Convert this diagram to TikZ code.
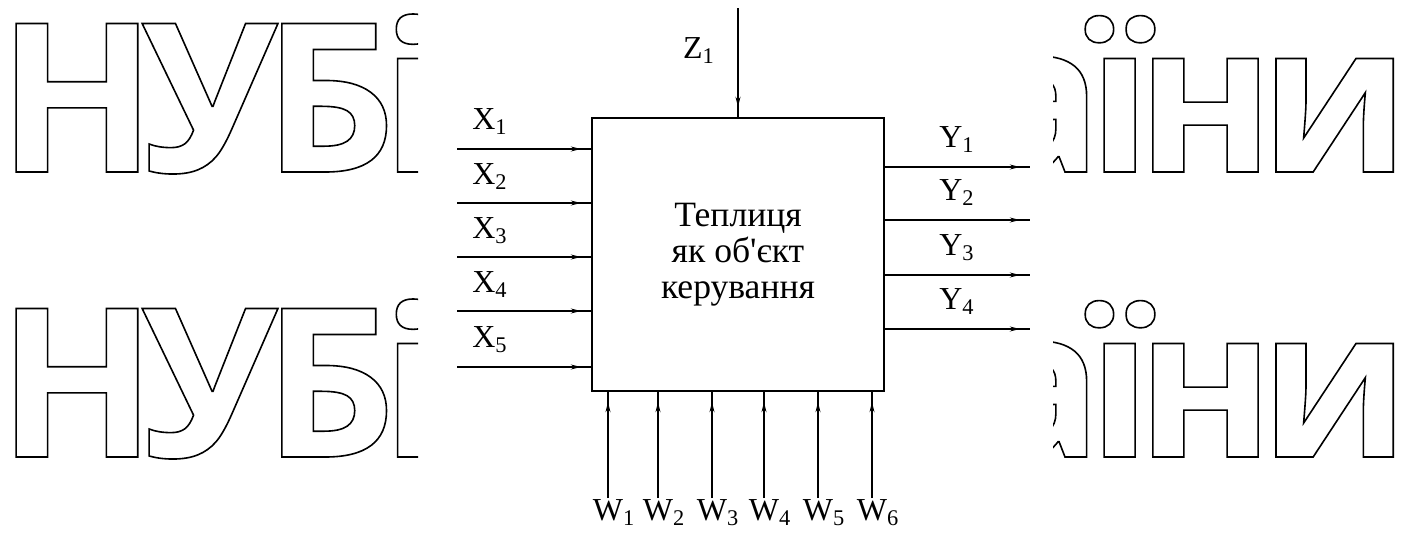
\documentclass[tikz,border=0pt]{standalone}
\usepackage{fontspec}
\setmainfont{Liberation Serif}[Ligatures=TeXOff]
\newfontfamily\lblfont{Liberation Serif}[Ligatures=TeXOff]
\newfontfamily\wmfont{Open Sans}[LetterSpace=-7]
\usepackage{tikz}
\usetikzlibrary{arrows.meta,decorations.markings}
\tikzset{
  plant/.style={draw, line width=1pt, minimum width=146pt, minimum height=136.5pt, align=center, inner sep=0pt,
    font=\lblfont\fontsize{17.8}{18}\selectfont},
  sig/.style={line width=0.9pt, postaction={decorate},
    decoration={markings, mark=at position -5pt with {\arrow{Stealth[length=5pt,width=2.4pt]}}}},
  lbl/.style={anchor=base, inner sep=0pt},
  wm/.style={font=\wmfont\bfseries\fontsize{104}{110}\selectfont, inner sep=0pt},
  >=Stealth
}
% outlined letters of the watermark
\newcommand{\wmtext}[1]{\special{pdf:code 1 Tr 0.8 w}#1\special{pdf:code 0 Tr}}

\begin{document}
\begin{tikzpicture}[x=0.5pt, y=-0.5pt, every node/.style={font=\lblfont\fontsize{16}{18}\selectfont}]
  \useasboundingbox (0,0) rectangle (1410,537);
  % watermark, cut by the white diagram area
  \begin{scope}
    \clip (0,0) rectangle (418,537);
    \node[wm, anchor=base west] (wmL1) at (-3,172) {\wmtext{НУБі}};
    \node[wm, anchor=base west] (wmL2) at (-3,457) {\wmtext{НУБі}};
  \end{scope}
  \begin{scope}
    \clip (1053,0) rectangle (1410,537);
    \node[wm, anchor=base east] (wmR1) at (1410,172) {\wmtext{аїни}};
    \node[wm, anchor=base east] (wmR2) at (1410,457) {\wmtext{аїни}};
  \end{scope}

  \node[plant] (gh) at (738,254.5) {Теплиця\\ як об'єкт\\ керування};

  % inputs X
  \coordinate (x1) at (457,149);
  \coordinate (x2) at (457,203);
  \coordinate (x3) at (457,257);
  \coordinate (x4) at (457,311);
  \coordinate (x5) at (457,367);
  \draw[sig] (x1) -- (gh.west |- x1);
  \draw[sig] (x2) -- (gh.west |- x2);
  \draw[sig] (x3) -- (gh.west |- x3);
  \draw[sig] (x4) -- (gh.west |- x4);
  \draw[sig] (x5) -- (gh.west |- x5);
  \node[lbl] (lx1) at (490,129) {X\textsubscript{1}};
  \node[lbl] (lx2) at (490,184) {X\textsubscript{2}};
  \node[lbl] (lx3) at (490,238) {X\textsubscript{3}};
  \node[lbl] (lx4) at (490,292) {X\textsubscript{4}};
  \node[lbl] (lx5) at (490,347) {X\textsubscript{5}};

  % outputs Y
  \coordinate (y1) at (1030,167);
  \coordinate (y2) at (1030,220);
  \coordinate (y3) at (1030,275);
  \coordinate (y4) at (1030,329);
  \draw[sig] (gh.east |- y1) -- (y1);
  \draw[sig] (gh.east |- y2) -- (y2);
  \draw[sig] (gh.east |- y3) -- (y3);
  \draw[sig] (gh.east |- y4) -- (y4);
  \node[lbl] (ly1) at (957,147) {Y\textsubscript{1}};
  \node[lbl] (ly2) at (957,200) {Y\textsubscript{2}};
  \node[lbl] (ly3) at (957,255) {Y\textsubscript{3}};
  \node[lbl] (ly4) at (957,309) {Y\textsubscript{4}};

  % disturbance Z
  \coordinate (z1) at (738,8);
  \draw[sig] (z1) -- (gh.north);
  \node[lbl] (lz1) at (699,58) {Z\textsubscript{1}};

  % disturbances W
  \coordinate (w1) at (608,498);
  \coordinate (w2) at (658,498);
  \coordinate (w3) at (712,498);
  \coordinate (w4) at (764,498);
  \coordinate (w5) at (818,498);
  \coordinate (w6) at (872,498);
  \draw[sig] (w1) -- (gh.south -| w1);
  \draw[sig] (w2) -- (gh.south -| w2);
  \draw[sig] (w3) -- (gh.south -| w3);
  \draw[sig] (w4) -- (gh.south -| w4);
  \draw[sig] (w5) -- (gh.south -| w5);
  \draw[sig] (w6) -- (gh.south -| w6);
  \node[lbl] (lw1) at (614,520) {W\textsubscript{1}};
  \node[lbl] (lw2) at (664,520) {W\textsubscript{2}};
  \node[lbl] (lw3) at (718,520) {W\textsubscript{3}};
  \node[lbl] (lw4) at (770,520) {W\textsubscript{4}};
  \node[lbl] (lw5) at (824,520) {W\textsubscript{5}};
  \node[lbl] (lw6) at (878,520) {W\textsubscript{6}};
\end{tikzpicture}
\end{document}
